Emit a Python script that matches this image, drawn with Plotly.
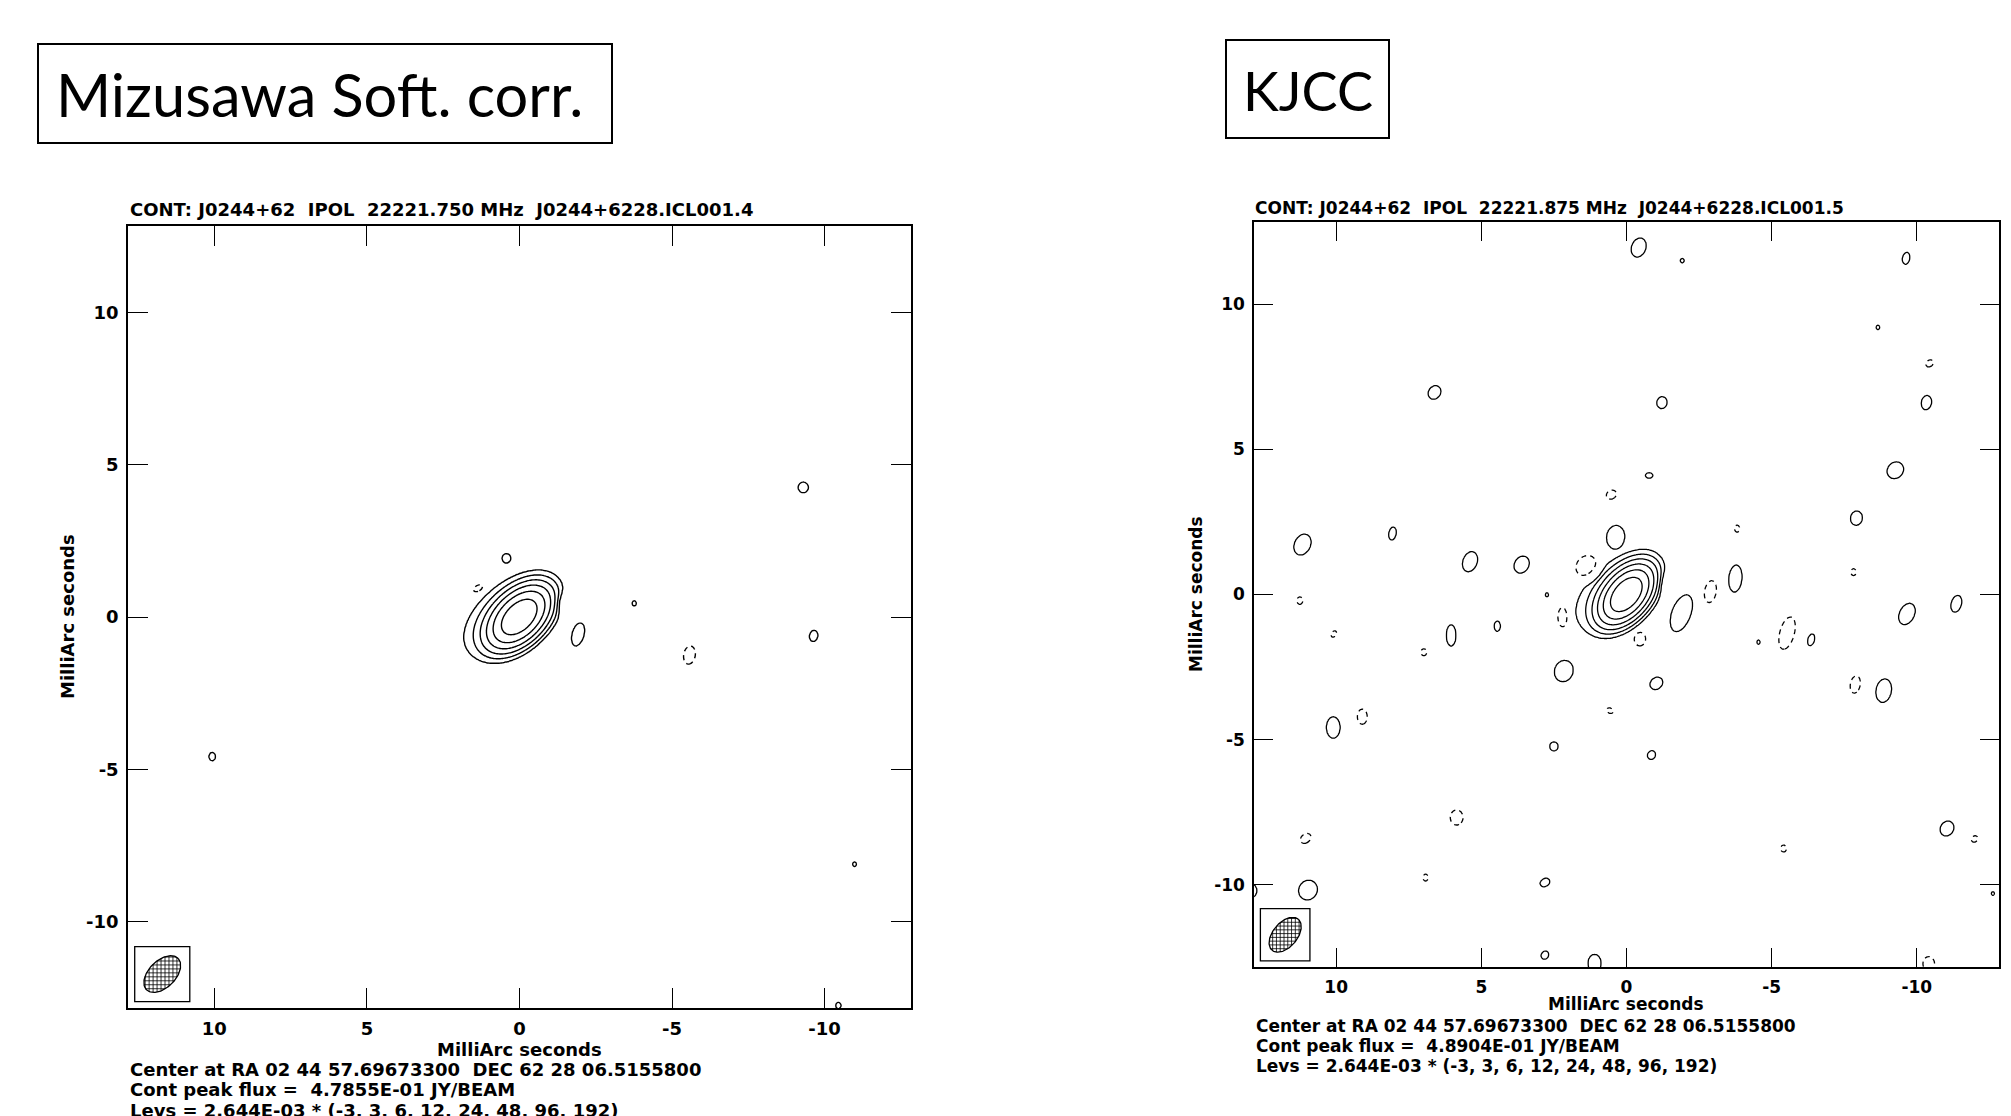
import numpy as np
import plotly.graph_objects as go

W, H = 2011, 1116

# ---------------------------------------------------------------- shared
LEV_BASE = 2.644e-03                      # Jy/beam, lowest contour unit
LEV_MULT = [-3, 3, 6, 12, 24, 48, 96, 192]
TICK_VALS = [10, 5, 0, -5, -10]
TICK_TEXT = ["10", "5", "0", "-5", "-10"]
AXIS_TITLE = "MilliArc seconds"
HALF_FIELD = 12.83                        # mas

# ---------------------------------------------------------------- panel A
A_LABEL = "Mizusawa Soft. corr."
A_TITLE = "CONT: J0244+62  IPOL  22221.750 MHz  J0244+6228.ICL001.4"
A_FOOT = ["Center at RA 02 44 57.69673300  DEC 62 28 06.5155800",
          "Cont peak flux =  4.7855E-01 JY/BEAM",
          "Levs = 2.644E-03 * (-3, 3, 6, 12, 24, 48, 96, 192)"]
# restoring beam: FWHM major, minor (mas), position angle (deg)
A_BEAM = [1.46, 0.88, -45.0]
# source model: core, eastern halo, western residual dip
# offset (mas), peak (Jy/beam), sigma major/minor (mas), PA (deg)
A_SRC_X = [0.0, 0.70, -1.45]
A_SRC_Y = [0.0, 0.00, 0.45]
A_SRC_PEAK = [0.468, 0.0159, -0.0119]
A_SRC_SMAJ = [0.62, 1.10, 0.25]
A_SRC_SMIN = [0.374, 0.60, 0.25]
A_SRC_PA = [-45.0, -45.0, 0.0]
# residual islands: centre (mas), outer contour semi-axes (mas), PA, sign
A_ISL_X = [0.43, 1.35, -1.92, -3.76, -5.57, -9.30, -9.64, 10.07, -10.98, -10.45]
A_ISL_Y = [1.93, 0.94, -0.57, 0.45, -1.25, 4.25, -0.62, -4.58, -8.11, -12.75]
A_ISL_RMAJ = [0.14, 0.20, 0.38, 0.08, 0.30, 0.17, 0.18, 0.13, 0.07, 0.10]
A_ISL_RMIN = [0.13, 0.12, 0.19, 0.06, 0.19, 0.16, 0.13, 0.10, 0.06, 0.08]
A_ISL_PA = [0, -60, -15, 0, -10, 0, -10, 0, 0, 0]
A_ISL_SIGN = [1, -1, 1, 1, -1, 1, 1, 1, 1, 1]

# ---------------------------------------------------------------- panel B
B_LABEL = "KJCC"
B_TITLE = "CONT: J0244+62  IPOL  22221.875 MHz  J0244+6228.ICL001.5"
B_FOOT = ["Center at RA 02 44 57.69673300  DEC 62 28 06.5155800",
          "Cont peak flux =  4.8904E-01 JY/BEAM",
          "Levs = 2.644E-03 * (-3, 3, 6, 12, 24, 48, 96, 192)"]
B_BEAM = [1.40, 0.84, -40.0]
B_SRC_X = [0.0, 0.65, -1.35]
B_SRC_Y = [0.0, 0.05, 0.40]
B_SRC_PEAK = [0.479, 0.0159, -0.0095]
B_SRC_SMAJ = [0.595, 1.10, 0.30]
B_SRC_SMIN = [0.357, 0.60, 0.30]
B_SRC_PA = [-40.0, -45.0, 0.0]
B_ISL_X = [6.61, 11.16, 8.06, 5.39, 3.61, 0.52, 0.38, 1.35, 11.25, 2.74,
           -0.42, -1.92, -9.63, -8.66, -10.44, -10.33, -1.22, -0.78, -9.26, -7.92,
           -3.81, -7.82, -3.75, -2.89, -11.36, -1.89, -0.46, -4.55, -5.53, -6.36,
           -9.66, -1.03, -7.88, -8.86, -0.86, -11.04, -11.99, -5.41, -12.62, -10.41,
           10.08, 6.98, 6.04, 4.45, 2.18, 2.16, 0.57, 2.50, 10.10, 9.10,
           5.85, 11.05, 6.92, 10.97, 12.90, 2.81, 2.81, 1.10]
B_ISL_Y = [6.96, 1.72, 2.10, 1.13, 1.03, 3.44, 2.00, 0.94, -0.21, -0.01,
           11.95, 11.50, 11.58, 9.20, 7.96, 6.61, 6.61, 4.10, 4.28, 2.63,
           2.27, 0.77, 0.55, 0.10, -0.32, -0.64, -1.53, -1.64, -1.33, -1.56,
           -0.67, -3.06, -3.10, -3.31, -5.53, -8.06, -8.42, -8.75, -10.30, -12.72,
           -1.36, -1.99, -1.41, -1.09, -0.78, -2.64, -4.00, -5.23, -4.58, -4.21,
           -7.68, -8.40, -9.75, -10.18, -10.20, -9.92, -12.42, -12.70]
B_ISL_RMAJ = [0.24, 0.37, 0.22, 0.35, 0.30, 0.18, 0.37, 0.45, 0.13, 0.06,
              0.33, 0.07, 0.20, 0.07, 0.14, 0.24, 0.20, 0.12, 0.30, 0.24,
              0.12, 0.12, 0.46, 0.38, 0.29, 0.66, 0.24, 0.07, 0.57, 0.20,
              0.38, 0.23, 0.30, 0.40, 0.15, 0.26, 0.12, 0.12, 0.06, 0.25,
              0.12, 0.12, 0.36, 0.17, 0.43, 0.36, 0.12, 0.15, 0.36, 0.26,
              0.26, 0.20, 0.12, 0.34, 0.22, 0.17, 0.14, 0.30]
B_ISL_RMIN = [0.20, 0.27, 0.12, 0.24, 0.24, 0.15, 0.29, 0.40, 0.10, 0.05,
              0.24, 0.06, 0.12, 0.06, 0.11, 0.17, 0.17, 0.09, 0.26, 0.20,
              0.09, 0.09, 0.22, 0.20, 0.17, 0.32, 0.20, 0.05, 0.25, 0.11,
              0.25, 0.19, 0.17, 0.26, 0.13, 0.22, 0.10, 0.10, 0.05, 0.20,
              0.08, 0.10, 0.16, 0.10, 0.22, 0.31, 0.09, 0.14, 0.23, 0.17,
              0.22, 0.15, 0.09, 0.31, 0.16, 0.13, 0.12, 0.22]
B_ISL_PA = [-35, -25, -10, -20, -30, -60, -10, -40, 0, 0,
            -20, 0, -10, 0, -50, -10, -10, 90, -40, -10,
            0, 0, -5, -10, -15, -20, 0, 0, -15, -15,
            -25, -50, -10, -10, -30, -30, -40, 0, 0, 0,
            -30, 0, 0, 0, 0, -20, 60, 0, 0, 0,
            0, -50, 0, -30, 0, -60, -30, 0]
B_ISL_SIGN = [1, 1, 1, 1, 1, -1, 1, -1, -1, 1,
              1, 1, 1, 1, -1, 1, 1, 1, 1, 1,
              -1, -1, 1, -1, 1, 1, -1, 1, -1, 1,
              1, 1, -1, 1, 1, 1, -1, -1, 1, -1,
              -1, -1, 1, 1, -1, 1, -1, 1, 1, -1,
              -1, -1, -1, 1, 1, 1, 1, 1]

# ---------------------------------------------------------------- helpers
FONT = "DejaVu Sans"
ISL_PEAK = 5.0          # island peak in units of LEV_BASE

GRID = np.arange(-13.0, 13.0001, 0.04)
GX, GY = np.meshgrid(GRID, GRID)


def rotated(cx, cy, pa):
    t = np.deg2rad(pa)
    dx, dy = GX - cx, GY - cy
    u = dx * np.sin(t) + dy * np.cos(t)
    v = dx * np.cos(t) - dy * np.sin(t)
    return u, v


def gauss(cx, cy, peak, smaj, smin, pa):
    u, v = rotated(cx, cy, pa)
    return peak * np.exp(-0.5 * ((u / smaj) ** 2 + (v / smin) ** 2))


def island(cx, cy, sign, rmaj, rmin, pa):
    # compact island whose lowest contour (3 units) traces the given ellipse
    u, v = rotated(cx, cy, pa)
    rho2 = (u / rmaj) ** 2 + (v / rmin) ** 2
    return sign * ISL_PEAK * np.exp(-np.log(ISL_PEAK / 3.0) * rho2 ** 2)


def model_map(sx, sy, speak, smaj, smin, spa, ix, iy, irmaj, irmin, ipa, isign):
    img = np.zeros_like(GX)
    for k in range(len(sx)):
        img += gauss(sx[k], sy[k], speak[k] / LEV_BASE, smaj[k], smin[k], spa[k])
    for k in range(len(ix)):
        img += island(ix[k], iy[k], isign[k], irmaj[k], irmin[k], ipa[k])
    return img


def level_index(img):
    # monotone remap so the geometric levels become evenly spaced:
    # -3 -> 0, 3 -> 1, 6 -> 2, 12 -> 3, ... 192 -> 7
    out = (img + 3.0) / 6.0
    hi = img > 3.0
    out[hi] = 1.0 + np.log2(img[hi] / 3.0)
    return out.astype(np.float32)


def beam_traces(beam, xa, ya, lw):
    bmaj, bmin, bpa = beam
    a, b = bmaj / 2.0, bmin / 2.0
    t = np.deg2rad(bpa)
    e1 = np.array([np.sin(t), np.cos(t)])
    e2 = np.array([np.cos(t), -np.sin(t)])
    hx = np.sqrt((a * e1[0]) ** 2 + (b * e2[0]) ** 2)
    hy = np.sqrt((a * e1[1]) ** 2 + (b * e2[1]) ** 2)
    pad = 0.30
    cx = HALF_FIELD - 0.22 - (hx + pad)
    cy = -HALF_FIELD + 0.21 + (hy + pad)
    box = dict(type="rect", xref=xa, yref=ya, x0=cx + hx + pad, x1=cx - hx - pad,
               y0=cy - hy - pad, y1=cy + hy + pad,
               line=dict(color="black", width=lw), layer="above")
    ang = np.linspace(0, 2 * np.pi, 121)
    ex = cx + a * np.cos(ang) * e1[0] + b * np.sin(ang) * e2[0]
    ey = cy + a * np.cos(ang) * e1[1] + b * np.sin(ang) * e2[1]
    # cross hatching, clipped to the beam ellipse
    hxs, hys = [], []
    step = 0.13
    for d, n in (((1.0, 0.0), (0.0, 1.0)), ((0.0, 1.0), (1.0, 0.0))):
        d, n = np.array(d), np.array(n)
        d1, d2 = d @ e1, d @ e2
        n1, n2 = n @ e1, n @ e2
        A = (d1 / a) ** 2 + (d2 / b) ** 2
        for s in np.arange(-1.0, 1.0001, step):
            B = 2 * s * (n1 * d1 / a ** 2 + n2 * d2 / b ** 2)
            C = s * s * ((n1 / a) ** 2 + (n2 / b) ** 2) - 1
            disc = B * B - 4 * A * C
            if disc <= 0:
                continue
            r = np.sqrt(disc)
            for tt in ((-B - r) / (2 * A), (-B + r) / (2 * A)):
                p = s * n + tt * d
                hxs.append(cx + p[0])
                hys.append(cy + p[1])
            hxs.append(None)
            hys.append(None)
    tr = [go.Scatter(x=ex, y=ey, mode="lines", line=dict(color="black", width=lw),
                     xaxis=xa, yaxis=ya, hoverinfo="skip", showlegend=False),
          go.Scatter(x=hxs, y=hys, mode="lines", line=dict(color="black", width=0.8),
                     xaxis=xa, yaxis=ya, hoverinfo="skip", showlegend=False)]
    return tr, box


def contour_traces(img, xa, ya, lw):
    z = level_index(img)
    pos = go.Contour(x=GRID, y=GRID, z=z, xaxis=xa, yaxis=ya, showscale=False,
                     hoverinfo="skip", autocontour=False,
                     contours=dict(start=1, end=7, size=1, coloring="none"),
                     line=dict(color="black", width=lw, smoothing=1))
    neg = go.Contour(x=GRID, y=GRID, z=z, xaxis=xa, yaxis=ya, showscale=False,
                     hoverinfo="skip", autocontour=False,
                     contours=dict(start=0, end=0.5, size=1, coloring="none"),
                     line=dict(color="black", width=lw, smoothing=1, dash="5px,4px"))
    return [pos, neg]


img_a = model_map(A_SRC_X, A_SRC_Y, A_SRC_PEAK, A_SRC_SMAJ, A_SRC_SMIN, A_SRC_PA,
                  A_ISL_X, A_ISL_Y, A_ISL_RMAJ, A_ISL_RMIN, A_ISL_PA, A_ISL_SIGN)
img_b = model_map(B_SRC_X, B_SRC_Y, B_SRC_PEAK, B_SRC_SMAJ, B_SRC_SMIN, B_SRC_PA,
                  B_ISL_X, B_ISL_Y, B_ISL_RMAJ, B_ISL_RMIN, B_ISL_PA, B_ISL_SIGN)

fig = go.Figure()
for tr in contour_traces(img_a, "x", "y", 1.4):
    fig.add_trace(tr)
for tr in contour_traces(img_b, "x2", "y2", 1.3):
    fig.add_trace(tr)
beam_a, box_a = beam_traces(A_BEAM, "x", "y", 1.3)
beam_b, box_b = beam_traces(B_BEAM, "x2", "y2", 1.3)
for tr in beam_a + beam_b:
    fig.add_trace(tr)


def px(x):
    return x / W


def py(y):
    return 1 - y / H


def axis(dom, size, tlen, standoff):
    return dict(domain=dom, range=[-HALF_FIELD, HALF_FIELD], showgrid=False, zeroline=False,
                showline=True, linecolor="black", linewidth=1.5, mirror="ticks",
                ticks="inside", ticklen=tlen, tickwidth=1.4, tickcolor="black",
                tickmode="array", tickvals=TICK_VALS, ticktext=TICK_TEXT,
                ticklabelstandoff=standoff,
                tickfont=dict(family=FONT, size=size, color="black", weight="bold"))


xa = axis([px(128), px(911)], 18, 20, 4)
xa["range"] = [HALF_FIELD, -HALF_FIELD]
ya = axis([py(1008), py(226)], 18, 20, 4)
xb = axis([px(1254), px(1999)], 17, 19, 4)
xb["range"] = [HALF_FIELD, -HALF_FIELD]
yb = axis([py(967), py(222)], 17, 19, 4)
xb["anchor"] = "y2"
yb["anchor"] = "x2"

ann = []


def txt(s, x, y, size, xanchor="left", angle=0, family=FONT, bold=True):
    ann.append(dict(text=s, x=px(x), y=py(y), xref="paper", yref="paper",
                    xanchor=xanchor, yanchor="middle", showarrow=False, textangle=angle,
                    font=dict(family=family, size=size, color="black",
                              weight="bold" if bold else "normal")))


# panel A text
txt(A_TITLE, 128, 209, 18)
txt(AXIS_TITLE, 519, 1049, 18, "center")
txt(AXIS_TITLE, 67, 617, 18, "center", -90)
for i, s in enumerate(A_FOOT):
    txt(s, 128, 1069 + 20.5 * i, 18)
# panel B text
txt(B_TITLE, 1253, 208, 17)
txt(AXIS_TITLE, 1626, 1004, 17, "center")
txt(AXIS_TITLE, 1196, 594, 17, "center", -90)
for i, s in enumerate(B_FOOT):
    txt(s, 1254, 1026 + 20 * i, 17)
# correlator labels
txt(A_LABEL, 319, 94, 59.5, "center", family="Lato", bold=False)
txt(B_LABEL, 1308, 90, 54, "center", family="Lato", bold=False)

shapes = [box_a, box_b,
          dict(type="rect", xref="paper", yref="paper", x0=px(38), x1=px(612),
               y0=py(143), y1=py(44), line=dict(color="black", width=2)),
          dict(type="rect", xref="paper", yref="paper", x0=px(1226), x1=px(1389),
               y0=py(138), y1=py(40), line=dict(color="black", width=2))]

fig.update_layout(width=W, height=H, autosize=False, margin=dict(l=0, r=0, t=0, b=0),
                  paper_bgcolor="white", plot_bgcolor="white", showlegend=False,
                  xaxis=xa, yaxis=ya, xaxis2=xb, yaxis2=yb,
                  annotations=ann, shapes=shapes)
fig.write_html("out.html")
